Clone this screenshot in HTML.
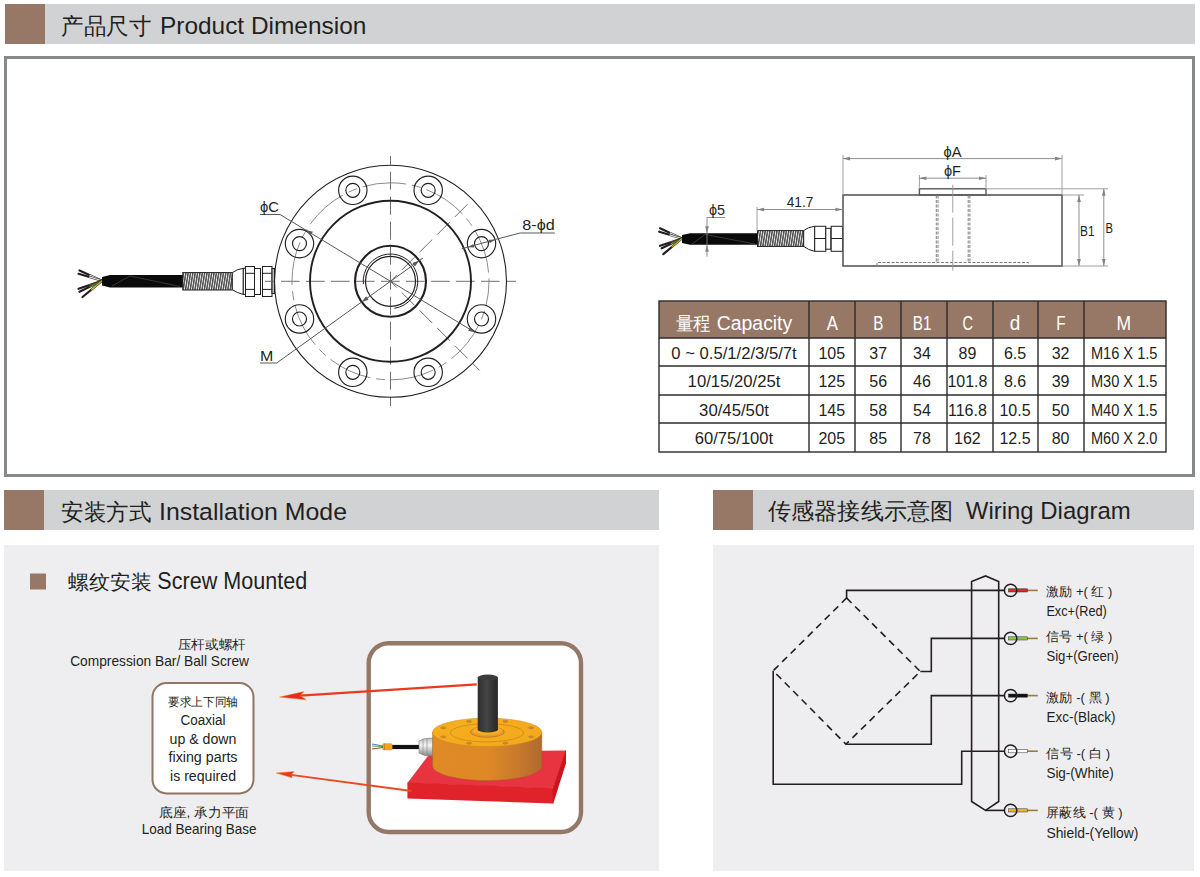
<!DOCTYPE html>
<html><head><meta charset="utf-8"><style>
html,body{margin:0;padding:0;background:#fff;}
svg{display:block;font-family:"Liberation Sans", sans-serif;}
</style></head><body>
<svg width="1200" height="877" viewBox="0 0 1200 877">
<rect x="5" y="4" width="40" height="40" fill="#977866"/>
<rect x="45" y="4" width="1150" height="40" fill="#d1d2d4"/>
<rect x="5.5" y="57.5" width="1188" height="418" fill="#fff" stroke="#87888a" stroke-width="3"/>
<rect x="4" y="490" width="40" height="40" fill="#977866"/>
<rect x="44" y="490" width="615" height="40" fill="#d1d2d4"/>
<rect x="713" y="490" width="40" height="40" fill="#977866"/>
<rect x="753" y="490" width="441" height="40" fill="#d1d2d4"/>
<rect x="4" y="545" width="655" height="326" fill="#eeeef0"/>
<rect x="713" y="545" width="481" height="326" fill="#eeeef0"/>
<text x="61" y="33.7" font-size="23" text-anchor="start" fill="#231f20" textLength="90" lengthAdjust="spacingAndGlyphs" >产品尺寸</text>
<text x="160" y="33.7" font-size="24.5" text-anchor="start" fill="#231f20" textLength="206.3" lengthAdjust="spacingAndGlyphs" >Product Dimension</text>
<text x="61" y="520" font-size="23" text-anchor="start" fill="#231f20" textLength="90" lengthAdjust="spacingAndGlyphs" >安装方式</text>
<text x="159" y="520" font-size="24.5" text-anchor="start" fill="#231f20" textLength="188" lengthAdjust="spacingAndGlyphs" >Installation Mode</text>
<text x="768" y="518.5" font-size="23" text-anchor="start" fill="#231f20" textLength="185" lengthAdjust="spacingAndGlyphs" >传感器接线示意图</text>
<text x="965.8" y="518.5" font-size="24.5" text-anchor="start" fill="#231f20" textLength="165" lengthAdjust="spacingAndGlyphs" >Wiring Diagram</text>
<g stroke="#6d6e71" stroke-width="1" fill="none">
<line x1="265" y1="281.3" x2="516" y2="281.3" stroke-dasharray="18.7 6.3" stroke-dashoffset="9"/>
<line x1="390.5" y1="156" x2="390.5" y2="406" stroke-dasharray="18 7" stroke-dashoffset="9.300000000000011"/>
<line x1="390.5" y1="281.3" x2="472.5" y2="199.3" stroke-dasharray="18 7" stroke-dashoffset="9"/>
<line x1="390.5" y1="281.3" x2="479.6" y2="370.4" stroke-dasharray="18 7" stroke-dashoffset="9"/>
<circle cx="390.5" cy="281.3" r="98.5" stroke="#7d7e80" stroke-width="0.9" stroke-dasharray="44 6 9 6" stroke-dashoffset="20"/>
</g>
<g stroke="#231f20" fill="none">
<circle cx="390.5" cy="281.3" r="116" stroke-width="1.1"/>
<circle cx="390.5" cy="281.3" r="80.5" stroke-width="1.9"/>
<circle cx="390.5" cy="281.3" r="35.5" stroke-width="2.1"/>
<circle cx="390.5" cy="281.3" r="25" stroke-width="1.2"/>
<path d="M363.35,284.15 A27.3,27.3 0 1 1 394.30,308.33" stroke-width="1"/>
<circle cx="481.50" cy="318.99" r="14.2" stroke-width="1.15"/>
<circle cx="481.50" cy="318.99" r="7" stroke-width="1.15"/>
<circle cx="428.19" cy="372.30" r="14.2" stroke-width="1.15"/>
<circle cx="428.19" cy="372.30" r="7" stroke-width="1.15"/>
<circle cx="352.81" cy="372.30" r="14.2" stroke-width="1.15"/>
<circle cx="352.81" cy="372.30" r="7" stroke-width="1.15"/>
<circle cx="299.50" cy="318.99" r="14.2" stroke-width="1.15"/>
<circle cx="299.50" cy="318.99" r="7" stroke-width="1.15"/>
<circle cx="299.50" cy="243.61" r="14.2" stroke-width="1.15"/>
<circle cx="299.50" cy="243.61" r="7" stroke-width="1.15"/>
<circle cx="352.81" cy="190.30" r="14.2" stroke-width="1.15"/>
<circle cx="352.81" cy="190.30" r="7" stroke-width="1.15"/>
<circle cx="428.19" cy="190.30" r="14.2" stroke-width="1.15"/>
<circle cx="428.19" cy="190.30" r="7" stroke-width="1.15"/>
<circle cx="481.50" cy="243.61" r="14.2" stroke-width="1.15"/>
<circle cx="481.50" cy="243.61" r="7" stroke-width="1.15"/>
</g>
<g stroke="#58595b" stroke-width="1" fill="none">
<polyline points="260,214.5 280,214.5 475.22,332.52"/>
<polyline points="260,363 276.7,363 422.99,257.97"/>
<polyline points="554.8,233 520.2,233 495.3,239.5 461.7,248.8"/>
</g>
<polygon points="305.78,230.08 312.91,231.82 310.63,235.59" fill="#58595b"/>
<polygon points="475.22,332.52 468.09,330.78 470.37,327.01" fill="#58595b"/>
<polygon points="419.34,260.60 414.93,266.47 412.37,262.89" fill="#58595b"/>
<polygon points="361.66,302.00 366.07,296.13 368.63,299.71" fill="#58595b"/>
<polygon points="494.99,239.87 489.69,243.21 488.73,239.74" fill="#58595b"/>
<polygon points="468.01,247.34 473.31,244.00 474.27,247.47" fill="#58595b"/>
<text x="260" y="212" font-size="15" text-anchor="start" fill="#231f20" textLength="19" lengthAdjust="spacingAndGlyphs" >&#x3D5;C</text>
<text x="260" y="361.3" font-size="15" text-anchor="start" fill="#231f20" textLength="13.3" lengthAdjust="spacingAndGlyphs" >M</text>
<text x="522.3" y="230.3" font-size="15" text-anchor="start" fill="#231f20" textLength="32.5" lengthAdjust="spacingAndGlyphs" >8-&#x3D5;d</text>
<line x1="102" y1="280.8" x2="79.5" y2="270.5" stroke="#231f20" stroke-width="2.2" stroke-linecap="round"/>
<line x1="102" y1="280.8" x2="89.6" y2="275.1" stroke="#ddd" stroke-width="1.2"/>
<line x1="102" y1="280.8" x2="78.5" y2="273.8" stroke="#231f20" stroke-width="2.2" stroke-linecap="round"/>
<line x1="102" y1="280.8" x2="89.1" y2="276.9" stroke="#ddd" stroke-width="1.2"/>
<line x1="102" y1="280.8" x2="78.5" y2="288.8" stroke="#231f20" stroke-width="2.2" stroke-linecap="round"/>
<line x1="102" y1="280.8" x2="89.1" y2="285.2" stroke="#e02020" stroke-width="1.2"/>
<line x1="102" y1="280.8" x2="79.5" y2="291.8" stroke="#231f20" stroke-width="2.2" stroke-linecap="round"/>
<line x1="102" y1="280.8" x2="89.6" y2="286.9" stroke="#3a9a30" stroke-width="1.2"/>
<line x1="102" y1="280.8" x2="82.5" y2="297" stroke="#231f20" stroke-width="2.2" stroke-linecap="round"/>
<line x1="102" y1="280.8" x2="91.3" y2="289.7" stroke="#d8c020" stroke-width="1.2"/>
<path d="M102,277 L110,275 L183,275 L183,287.5 L110,287.5 L102,285.5 Z" fill="#0a0a0a"/>
<line x1="112" y1="286" x2="130" y2="276" stroke="#555" stroke-width="0.6"/><line x1="130" y1="276" x2="180" y2="286.5" stroke="#555" stroke-width="0.6"/>
<defs><pattern id="sp1" patternUnits="userSpaceOnUse" width="2.35" height="17.4" patternTransform="translate(182.8,272.6) skewX(-9)"><rect width="2.35" height="17.4" fill="#f2f2f2"/><rect width="1.45" height="17.4" fill="#4a4a4a"/></pattern></defs>
<rect x="182.8" y="272.6" width="49.5" height="17.4" fill="url(#sp1)" stroke="#231f20" stroke-width="1"/>
<g stroke="#231f20" stroke-width="1" fill="#fff">
<path d="M232.3,272.6 Q237,269 243.3,268.3 L243.3,294.4 Q237,293 232.3,289.6 Z"/>
<rect x="243.3" y="268.3" width="2.3" height="26.1"/>
<rect x="245.5" y="266.5" width="9" height="30"/>
<line x1="245.6" y1="273.3" x2="254.6" y2="273.3"/><line x1="245.6" y1="289.4" x2="254.6" y2="289.4"/>
<rect x="254.5" y="268.5" width="6" height="26"/>
<rect x="262.5" y="266.5" width="9.5" height="30"/>
<line x1="262" y1="273.3" x2="272" y2="273.3"/><line x1="262" y1="289.4" x2="272" y2="289.4"/>
<rect x="272" y="268.5" width="2.5" height="25" fill="#bbb"/>
</g>
<line x1="265" y1="281.3" x2="274" y2="281.3" stroke="#6d6e71" stroke-width="1"/>
<line x1="682" y1="238.5" x2="660" y2="228.3" stroke="#231f20" stroke-width="2.2" stroke-linecap="round"/>
<line x1="682" y1="238.5" x2="669.9" y2="232.9" stroke="#ddd" stroke-width="1.2"/>
<line x1="682" y1="238.5" x2="659.2" y2="231.7" stroke="#231f20" stroke-width="2.2" stroke-linecap="round"/>
<line x1="682" y1="238.5" x2="669.5" y2="234.8" stroke="#ddd" stroke-width="1.2"/>
<line x1="682" y1="238.5" x2="660" y2="245.8" stroke="#231f20" stroke-width="2.2" stroke-linecap="round"/>
<line x1="682" y1="238.5" x2="669.9" y2="242.5" stroke="#e02020" stroke-width="1.2"/>
<line x1="682" y1="238.5" x2="661.7" y2="248.3" stroke="#231f20" stroke-width="2.2" stroke-linecap="round"/>
<line x1="682" y1="238.5" x2="670.8" y2="243.9" stroke="#3a9a30" stroke-width="1.2"/>
<line x1="682" y1="238.5" x2="663.3" y2="254.2" stroke="#231f20" stroke-width="2.2" stroke-linecap="round"/>
<line x1="682" y1="238.5" x2="671.7" y2="247.1" stroke="#d8c020" stroke-width="1.2"/>
<path d="M682,235 L690,233.3 L757.5,233.3 L757.5,244.7 L690,244.7 L682,243 Z" fill="#0a0a0a"/>
<line x1="692" y1="244" x2="705" y2="234.5" stroke="#555" stroke-width="0.6"/><line x1="705" y1="234.5" x2="755" y2="244" stroke="#555" stroke-width="0.6"/>
<defs><pattern id="sp2" patternUnits="userSpaceOnUse" width="2.35" height="15.8" patternTransform="translate(757.5,230.6) skewX(-9)"><rect width="2.35" height="15.8" fill="#f2f2f2"/><rect width="1.45" height="15.8" fill="#4a4a4a"/></pattern></defs>
<rect x="757.5" y="230.6" width="46.200000000000045" height="15.8" fill="url(#sp2)" stroke="#231f20" stroke-width="1"/>
<g stroke="#231f20" stroke-width="1" fill="#fff">
<path d="M803.7,230.6 Q808,227 814.7,226.3 L814.7,251.3 Q808,250 803.7,246.4 Z"/>
<rect x="814.7" y="226.3" width="11.1" height="25"/>
<line x1="814.7" y1="238.5" x2="825.8" y2="238.5"/>
<rect x="825.8" y="228.3" width="5" height="20.9"/>
<rect x="831.2" y="226.3" width="11.3" height="25"/>
<line x1="831.2" y1="238.5" x2="842.5" y2="238.5"/>
</g>
<g stroke="#58595b" fill="none">
<rect x="843" y="195" width="219" height="71" stroke-width="1.6"/>
<rect x="919.4" y="188.8" width="66.6" height="6.2" stroke-width="1.4"/>
<g stroke="#939598" stroke-width="0.9">
<line x1="843" y1="155" x2="843" y2="195"/><line x1="1062" y1="155" x2="1062" y2="195"/>
<line x1="919.4" y1="175" x2="919.4" y2="189"/><line x1="986" y1="175" x2="986" y2="189"/>
<line x1="1062" y1="195" x2="1084" y2="195"/><line x1="1062" y1="266" x2="1108" y2="266"/><line x1="986" y1="188.8" x2="1108" y2="188.8"/>
<line x1="757" y1="207" x2="757" y2="231"/>
</g>
<g stroke="#808285" stroke-width="0.9">
<line x1="843" y1="158.6" x2="1062" y2="158.6"/>
<line x1="919.4" y1="178.2" x2="986" y2="178.2"/>
<line x1="1079" y1="195" x2="1079" y2="266"/>
<line x1="1103.8" y1="188.8" x2="1103.8" y2="266"/>
<line x1="757" y1="209.5" x2="842.5" y2="209.5"/>
<polyline points="725,217.5 707,217.5 707,256.7"/>
</g>
<g stroke="#7d7e80" stroke-width="1" stroke-dasharray="3 1.5">
<line x1="936.3" y1="195.5" x2="936.3" y2="262.5"/>
<line x1="938.0" y1="195.5" x2="938.0" y2="262.5"/>
<line x1="968.2" y1="195.5" x2="968.2" y2="262.5"/>
<line x1="969.9" y1="195.5" x2="969.9" y2="262.5"/>
<polyline points="877,266 877,262.5 1028.6,262.5 1028.6,266"/>
</g>
<line x1="952.8" y1="184.7" x2="952.8" y2="270.5" stroke="#939598" stroke-width="0.9" stroke-dasharray="28 5"/>
</g>
<polygon points="843.00,158.60 850.00,156.80 850.00,160.40" fill="#808285"/>
<polygon points="1062.00,158.60 1055.00,160.40 1055.00,156.80" fill="#808285"/>
<polygon points="919.40,178.20 926.40,176.40 926.40,180.00" fill="#808285"/>
<polygon points="986.00,178.20 979.00,180.00 979.00,176.40" fill="#808285"/>
<polygon points="1079.00,195.00 1080.80,202.00 1077.20,202.00" fill="#808285"/>
<polygon points="1079.00,266.00 1077.20,259.00 1080.80,259.00" fill="#808285"/>
<polygon points="1103.80,188.80 1105.60,195.80 1102.00,195.80" fill="#808285"/>
<polygon points="1103.80,266.00 1102.00,259.00 1105.60,259.00" fill="#808285"/>
<polygon points="757.00,209.50 764.00,207.70 764.00,211.30" fill="#808285"/>
<polygon points="842.50,209.50 835.50,211.30 835.50,207.70" fill="#808285"/>
<polygon points="707.00,233.30 705.20,226.30 708.80,226.30" fill="#808285"/>
<polygon points="707.00,244.70 708.80,251.70 705.20,251.70" fill="#808285"/>
<text x="952.5" y="157" font-size="14" text-anchor="middle" fill="#231f20" textLength="18" lengthAdjust="spacingAndGlyphs" >&#x3D5;A</text>
<text x="952.5" y="175.8" font-size="14" text-anchor="middle" fill="#231f20" textLength="17" lengthAdjust="spacingAndGlyphs" >&#x3D5;F</text>
<text x="1080.1" y="236" font-size="14" text-anchor="start" fill="#231f20" textLength="14.5" lengthAdjust="spacingAndGlyphs" >B1</text>
<text x="1105.5" y="233" font-size="14" text-anchor="start" fill="#231f20" textLength="7.5" lengthAdjust="spacingAndGlyphs" >B</text>
<text x="786.7" y="207" font-size="14" text-anchor="start" fill="#231f20" textLength="26.6" lengthAdjust="spacingAndGlyphs" >41.7</text>
<text x="709" y="215" font-size="14" text-anchor="start" fill="#231f20" textLength="16" lengthAdjust="spacingAndGlyphs" >&#x3D5;5</text>
<rect x="659" y="301" width="507" height="37" fill="#977866"/>
<rect x="659" y="338" width="507" height="114" fill="#fff"/>
<g stroke="#2b2b2b" stroke-width="1.4" fill="none">
<rect x="659" y="301" width="507" height="151"/>
<line x1="809" y1="301" x2="809" y2="452"/>
<line x1="855" y1="301" x2="855" y2="452"/>
<line x1="901" y1="301" x2="901" y2="452"/>
<line x1="947" y1="301" x2="947" y2="452"/>
<line x1="993" y1="301" x2="993" y2="452"/>
<line x1="1038" y1="301" x2="1038" y2="452"/>
<line x1="1084" y1="301" x2="1084" y2="452"/>
<line x1="659" y1="338" x2="1166" y2="338"/>
<line x1="659" y1="366" x2="1166" y2="366"/>
<line x1="659" y1="395" x2="1166" y2="395"/>
<line x1="659" y1="423" x2="1166" y2="423"/>
</g>
<text x="675.9" y="330" font-size="19" text-anchor="start" fill="#ffffff" textLength="34.9" lengthAdjust="spacingAndGlyphs" >量程</text>
<text x="716.8" y="330" font-size="20" text-anchor="start" fill="#ffffff" textLength="75.4" lengthAdjust="spacingAndGlyphs" >Capacity</text>
<text x="832.3" y="330" font-size="19.5" text-anchor="middle" fill="#ffffff" textLength="11.2" lengthAdjust="spacingAndGlyphs" >A</text>
<text x="878.4" y="330" font-size="19.5" text-anchor="middle" fill="#ffffff" textLength="10.1" lengthAdjust="spacingAndGlyphs" >B</text>
<text x="922.2" y="330" font-size="19.5" text-anchor="middle" fill="#ffffff" textLength="18.7" lengthAdjust="spacingAndGlyphs" >B1</text>
<text x="967.7" y="330" font-size="19.5" text-anchor="middle" fill="#ffffff" textLength="10.5" lengthAdjust="spacingAndGlyphs" >C</text>
<text x="1015" y="330" font-size="19.5" text-anchor="middle" fill="#ffffff" textLength="10.5" lengthAdjust="spacingAndGlyphs" >d</text>
<text x="1061" y="330" font-size="19.5" text-anchor="middle" fill="#ffffff" textLength="9.3" lengthAdjust="spacingAndGlyphs" >F</text>
<text x="1123.8" y="330" font-size="19.5" text-anchor="middle" fill="#ffffff" textLength="14.6" lengthAdjust="spacingAndGlyphs" >M</text>
<text x="734" y="358.8" font-size="16" text-anchor="middle" fill="#231f20" textLength="125.3" lengthAdjust="spacingAndGlyphs" >0 ~ 0.5/1/2/3/5/7t</text>
<text x="831.8" y="358.8" font-size="16" text-anchor="middle" fill="#231f20" >105</text>
<text x="878.2" y="358.8" font-size="16" text-anchor="middle" fill="#231f20" >37</text>
<text x="922" y="358.8" font-size="16" text-anchor="middle" fill="#231f20" >34</text>
<text x="967.4" y="358.8" font-size="16" text-anchor="middle" fill="#231f20" >89</text>
<text x="1015" y="358.8" font-size="16" text-anchor="middle" fill="#231f20" >6.5</text>
<text x="1060.6" y="358.8" font-size="16" text-anchor="middle" fill="#231f20" >32</text>
<text x="1124.2" y="358.8" font-size="16" text-anchor="middle" fill="#231f20" textLength="66.5" lengthAdjust="spacingAndGlyphs" >M16 X 1.5</text>
<text x="734" y="387" font-size="16" text-anchor="middle" fill="#231f20" textLength="92.8" lengthAdjust="spacingAndGlyphs" >10/15/20/25t</text>
<text x="831.8" y="387" font-size="16" text-anchor="middle" fill="#231f20" >125</text>
<text x="878.2" y="387" font-size="16" text-anchor="middle" fill="#231f20" >56</text>
<text x="922" y="387" font-size="16" text-anchor="middle" fill="#231f20" >46</text>
<text x="967.4" y="387" font-size="16" text-anchor="middle" fill="#231f20" >101.8</text>
<text x="1015" y="387" font-size="16" text-anchor="middle" fill="#231f20" >8.6</text>
<text x="1060.6" y="387" font-size="16" text-anchor="middle" fill="#231f20" >39</text>
<text x="1124.2" y="387" font-size="16" text-anchor="middle" fill="#231f20" textLength="66.5" lengthAdjust="spacingAndGlyphs" >M30 X 1.5</text>
<text x="734" y="415.5" font-size="16" text-anchor="middle" fill="#231f20" textLength="69.8" lengthAdjust="spacingAndGlyphs" >30/45/50t</text>
<text x="831.8" y="415.5" font-size="16" text-anchor="middle" fill="#231f20" >145</text>
<text x="878.2" y="415.5" font-size="16" text-anchor="middle" fill="#231f20" >58</text>
<text x="922" y="415.5" font-size="16" text-anchor="middle" fill="#231f20" >54</text>
<text x="967.4" y="415.5" font-size="16" text-anchor="middle" fill="#231f20" >116.8</text>
<text x="1015" y="415.5" font-size="16" text-anchor="middle" fill="#231f20" >10.5</text>
<text x="1060.6" y="415.5" font-size="16" text-anchor="middle" fill="#231f20" >50</text>
<text x="1124.2" y="415.5" font-size="16" text-anchor="middle" fill="#231f20" textLength="66.5" lengthAdjust="spacingAndGlyphs" >M40 X 1.5</text>
<text x="734" y="444.2" font-size="16" text-anchor="middle" fill="#231f20" textLength="78.3" lengthAdjust="spacingAndGlyphs" >60/75/100t</text>
<text x="831.8" y="444.2" font-size="16" text-anchor="middle" fill="#231f20" >205</text>
<text x="878.2" y="444.2" font-size="16" text-anchor="middle" fill="#231f20" >85</text>
<text x="922" y="444.2" font-size="16" text-anchor="middle" fill="#231f20" >78</text>
<text x="967.4" y="444.2" font-size="16" text-anchor="middle" fill="#231f20" >162</text>
<text x="1015" y="444.2" font-size="16" text-anchor="middle" fill="#231f20" >12.5</text>
<text x="1060.6" y="444.2" font-size="16" text-anchor="middle" fill="#231f20" >80</text>
<text x="1124.2" y="444.2" font-size="16" text-anchor="middle" fill="#231f20" textLength="66.5" lengthAdjust="spacingAndGlyphs" >M60 X 2.0</text>
<rect x="30" y="573.5" width="16" height="16" fill="#977866"/>
<text x="68.3" y="589.3" font-size="20" text-anchor="start" fill="#231f20" textLength="83.4" lengthAdjust="spacingAndGlyphs" >螺纹安装</text>
<text x="157.3" y="589.3" font-size="23" text-anchor="start" fill="#231f20" textLength="150" lengthAdjust="spacingAndGlyphs" >Screw Mounted</text>
<text x="245.9" y="648.8" font-size="13" text-anchor="end" fill="#231f20" textLength="68" lengthAdjust="spacingAndGlyphs" >压杆或螺杆</text>
<text x="70.2" y="666" font-size="14.5" text-anchor="start" fill="#231f20" textLength="178.8" lengthAdjust="spacingAndGlyphs" >Compression Bar/ Ball Screw</text>
<rect x="152.5" y="683" width="101" height="110.4" rx="14" fill="#fff" stroke="#8f7565" stroke-width="2"/>
<text x="203" y="706" font-size="12" text-anchor="middle" fill="#231f20" textLength="70" lengthAdjust="spacingAndGlyphs" >要求上下同轴</text>
<text x="203" y="725" font-size="14" text-anchor="middle" fill="#231f20" textLength="45" lengthAdjust="spacingAndGlyphs" >Coaxial</text>
<text x="203" y="743.5" font-size="14" text-anchor="middle" fill="#231f20" textLength="67" lengthAdjust="spacingAndGlyphs" >up &amp; down</text>
<text x="203" y="762" font-size="14" text-anchor="middle" fill="#231f20" textLength="69" lengthAdjust="spacingAndGlyphs" >fixing parts</text>
<text x="203" y="781" font-size="14" text-anchor="middle" fill="#231f20" textLength="66" lengthAdjust="spacingAndGlyphs" >is required</text>
<text x="249" y="817" font-size="13" text-anchor="end" fill="#231f20" textLength="90" lengthAdjust="spacingAndGlyphs" >底座, 承力平面</text>
<text x="141.8" y="834" font-size="14.5" text-anchor="start" fill="#231f20" textLength="114.6" lengthAdjust="spacingAndGlyphs" >Load Bearing Base</text>
<rect x="368.7" y="643.2" width="212.3" height="188.8" rx="20" fill="#fff" stroke="#937867" stroke-width="4.4"/>
<defs>
<linearGradient id="org" x1="0" x2="1" y1="0" y2="0">
 <stop offset="0" stop-color="#e08a26"/><stop offset="0.5" stop-color="#de8926"/><stop offset="0.78" stop-color="#c87a2c"/><stop offset="1" stop-color="#b06a30"/>
</linearGradient>
<linearGradient id="orgtop" x1="0" x2="1" y1="0" y2="1">
 <stop offset="0" stop-color="#f6b020"/><stop offset="1" stop-color="#f2a81c"/>
</linearGradient>
<linearGradient id="rod" x1="0" x2="1">
 <stop offset="0" stop-color="#2e2e2e"/><stop offset="0.45" stop-color="#454545"/><stop offset="1" stop-color="#262626"/>
</linearGradient>
<linearGradient id="gland" x1="0" x2="0" y1="0" y2="1">
 <stop offset="0" stop-color="#bbb"/><stop offset="0.4" stop-color="#f4f4f4"/><stop offset="1" stop-color="#888"/>
</linearGradient>
</defs>
<polygon points="407.4,783 431,752 566,750.4 553.3,788.7" fill="#e73440"/>
<polygon points="407.4,782.5 553.3,788.2 553.3,803.4 407.4,798.6" fill="#e0222b"/>
<polygon points="552.8,788.7 565.5,750.4 566,750.4 566,763.2 553.3,803.4 552.8,803.4" fill="#c9161e"/>
<line x1="390" y1="747" x2="422" y2="747" stroke="#111" stroke-width="4.2"/>
<rect x="382.4" y="743.2" width="10" height="7" rx="1.5" fill="#f2a41c"/>
<line x1="384.5" y1="743.5" x2="384.5" y2="750" stroke="#b87810" stroke-width="0.7"/>
<line x1="372" y1="744" x2="383" y2="746" stroke="#3a6fb0" stroke-width="0.9"/><line x1="372" y1="746" x2="383" y2="746.5" stroke="#3a9a50" stroke-width="0.9"/><line x1="372" y1="749" x2="383" y2="747.5" stroke="#8a3020" stroke-width="0.9"/>
<path d="M419,741 Q424,737.5 433,738 L433,756 Q424,756.5 419,753 Z" fill="url(#gland)" stroke="#777" stroke-width="0.6"/>
<line x1="423" y1="738.5" x2="423" y2="755" stroke="#888" stroke-width="0.6"/><line x1="427" y1="738" x2="427" y2="756" stroke="#888" stroke-width="0.6"/>
<path d="M432.6,732.3 L432.6,766 A54.6,14.5 0 0 0 541.8,766 L541.8,732.3 Z" fill="url(#org)" stroke="#9a6a2a" stroke-width="0.5"/>
<ellipse cx="487.2" cy="732.3" rx="54.6" ry="14.2" fill="url(#orgtop)" stroke="#d08a1a" stroke-width="0.5"/>
<ellipse cx="486.9" cy="732.8" rx="36.6" ry="9.1" fill="none" stroke="#c27a18" stroke-width="0.6"/>
<ellipse cx="487.3" cy="732" rx="17" ry="5.2" fill="#e89a30" stroke="#b8701a" stroke-width="0.7"/><ellipse cx="487.3" cy="730.8" rx="15" ry="4" fill="#f4ac22"/>
<ellipse cx="531.1" cy="736.8" rx="2.6" ry="1.1" fill="#d08a30" stroke="#a06a20" stroke-width="0.3"/>
<ellipse cx="505.4" cy="743.2" rx="2.6" ry="1.1" fill="#d08a30" stroke="#a06a20" stroke-width="0.3"/>
<ellipse cx="469.0" cy="743.2" rx="2.6" ry="1.1" fill="#d08a30" stroke="#a06a20" stroke-width="0.3"/>
<ellipse cx="443.3" cy="736.8" rx="2.6" ry="1.1" fill="#d08a30" stroke="#a06a20" stroke-width="0.3"/>
<ellipse cx="443.3" cy="727.8" rx="2.6" ry="1.1" fill="#d08a30" stroke="#a06a20" stroke-width="0.3"/>
<ellipse cx="469.0" cy="721.4" rx="2.6" ry="1.1" fill="#d08a30" stroke="#a06a20" stroke-width="0.3"/>
<ellipse cx="505.4" cy="721.4" rx="2.6" ry="1.1" fill="#d08a30" stroke="#a06a20" stroke-width="0.3"/>
<ellipse cx="531.1" cy="727.8" rx="2.6" ry="1.1" fill="#d08a30" stroke="#a06a20" stroke-width="0.3"/>
<path d="M477.7,677.5 L477.7,729.5 A10.1,3 0 0 0 497.9,729.5 L497.9,677.5 Z" fill="url(#rod)"/>
<ellipse cx="487.8" cy="677.5" rx="10.1" ry="3" fill="#3c3c3c"/>
<line x1="476.8" y1="684.4" x2="300" y2="695.6" stroke="#ea3a1c" stroke-width="2.3"/>
<polygon points="279.6,697.1 303.8,691.6 300,695.7 306.4,699.8" fill="#e82a1a" stroke="#f07a2a" stroke-width="0.5"/>
<line x1="411.6" y1="791" x2="291" y2="774.8" stroke="#ec4a1e" stroke-width="1.8"/>
<polygon points="276.2,773 294,771.6 291.5,774.6 292.2,777.8" fill="#e83a1a" stroke="#f07a2a" stroke-width="0.5"/>
<g stroke="#231f20" stroke-width="1.6" fill="none">
<polygon points="846.6,598 920.3,671.5 845.9,744.2 773.2,670.8" stroke-dasharray="7 5"/>
<polyline points="846.6,598 846.6,590.4 1004.3,590.4"/>
<polyline points="920.3,671.5 931.3,671.5 931.3,638.4 1004.3,638.4"/>
<polyline points="845.9,744.2 931.3,744.2 931.3,695.6 1004.3,695.6"/>
<polyline points="773.2,670.8 773.2,784.3 961.7,784.3 961.7,751.2 1004.3,751.2"/>
<polyline points="985.5,810.4 1004.3,810.4"/>
<path d="M971.6,801.5 L971.6,581.5 L985.5,575.9 L998.7,581.5 L998.7,801.5 L985.5,810.4 Z"/>
</g>
<line x1="1027" y1="590.4" x2="1037.8" y2="590.4" stroke="#9a7b3a" stroke-width="1.6"/>
<rect x="1008.5" y="588.8" width="19" height="3.2" fill="#e0252b" stroke="#333" stroke-width="0.5"/>
<circle cx="1010.6" cy="590.4" r="6.2" fill="none" stroke="#231f20" stroke-width="1.5"/>
<line x1="1027" y1="638.4" x2="1037.8" y2="638.4" stroke="#9a7b3a" stroke-width="1.6"/>
<rect x="1008.5" y="636.8" width="19" height="3.2" fill="#8dc63f" stroke="#333" stroke-width="0.5"/>
<circle cx="1010.6" cy="638.4" r="6.2" fill="none" stroke="#231f20" stroke-width="1.5"/>
<line x1="1027" y1="695.6" x2="1037.8" y2="695.6" stroke="#9a7b3a" stroke-width="1.6"/>
<rect x="1008.5" y="694.0" width="19" height="3.2" fill="#111111" stroke="#333" stroke-width="0.5"/>
<circle cx="1010.6" cy="695.6" r="6.2" fill="none" stroke="#231f20" stroke-width="1.5"/>
<line x1="1027" y1="751.2" x2="1037.8" y2="751.2" stroke="#9a7b3a" stroke-width="1.6"/>
<rect x="1008.5" y="749.6" width="19" height="3.2" fill="#ffffff" stroke="#333" stroke-width="0.5"/>
<circle cx="1010.6" cy="751.2" r="6.2" fill="none" stroke="#231f20" stroke-width="1.5"/>
<line x1="1027" y1="810.4" x2="1037.8" y2="810.4" stroke="#9a7b3a" stroke-width="1.6"/>
<rect x="1008.5" y="808.8" width="19" height="3.2" fill="#e7b923" stroke="#333" stroke-width="0.5"/>
<circle cx="1010.6" cy="810.4" r="6.2" fill="none" stroke="#231f20" stroke-width="1.5"/>
<text x="1046.4" y="596" font-size="13" text-anchor="start" fill="#231f20" textLength="65.9" lengthAdjust="spacingAndGlyphs" >激励 +( 红 )</text>
<text x="1046.4" y="616.2" font-size="14" text-anchor="start" fill="#231f20" textLength="60.4" lengthAdjust="spacingAndGlyphs" >Exc+(Red)</text>
<text x="1046.4" y="641" font-size="13" text-anchor="start" fill="#231f20" textLength="65.9" lengthAdjust="spacingAndGlyphs" >信号 +( 绿 )</text>
<text x="1046.4" y="661.2" font-size="14" text-anchor="start" fill="#231f20" textLength="72.2" lengthAdjust="spacingAndGlyphs" >Sig+(Green)</text>
<text x="1046.4" y="702" font-size="13" text-anchor="start" fill="#231f20" textLength="63.3" lengthAdjust="spacingAndGlyphs" >激励 -( 黑 )</text>
<text x="1046.4" y="722.2" font-size="14" text-anchor="start" fill="#231f20" textLength="69" lengthAdjust="spacingAndGlyphs" >Exc-(Black)</text>
<text x="1046.4" y="757.5" font-size="13" text-anchor="start" fill="#231f20" textLength="63.7" lengthAdjust="spacingAndGlyphs" >信号 -( 白 )</text>
<text x="1046.4" y="777.7" font-size="14" text-anchor="start" fill="#231f20" textLength="67.4" lengthAdjust="spacingAndGlyphs" >Sig-(White)</text>
<text x="1046.4" y="816.7" font-size="13" text-anchor="start" fill="#231f20" textLength="76.2" lengthAdjust="spacingAndGlyphs" >屏蔽线 -( 黄 )</text>
<text x="1046.4" y="837.7" font-size="14" text-anchor="start" fill="#231f20" textLength="92" lengthAdjust="spacingAndGlyphs" >Shield-(Yellow)</text>
</svg></body></html>
